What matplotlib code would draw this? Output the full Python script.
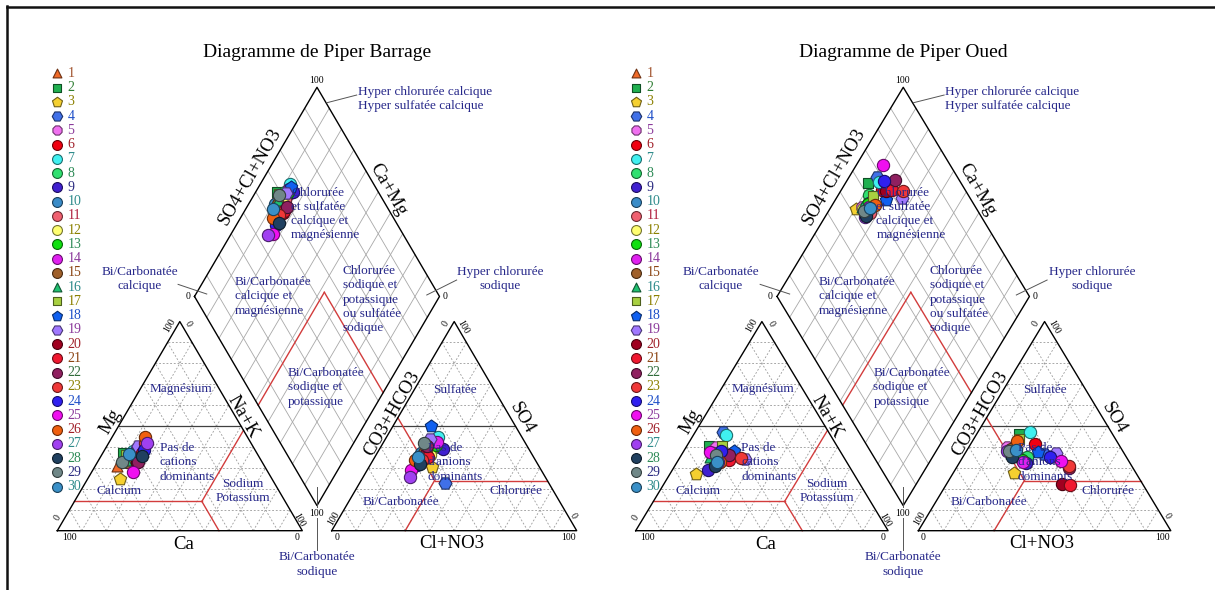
import numpy as np
import matplotlib
matplotlib.use("Agg")
import matplotlib.pyplot as plt
from matplotlib.lines import Line2D
from matplotlib.colors import to_rgb

plt.rcParams['font.family'] = ['Liberation Serif', 'DejaVu Serif']

# ---------------------------------------------------------------- samples
sample_ids = [str(i) for i in range(1, 31)]
sample_markers = ['^', 's', 'p', 'H', '8'] + ['o'] * 10 + ['^', 's', 'p', 'H'] + ['o'] * 11
sample_colors = ['#F06A28', '#20B050', '#F5D030', '#4070E8', '#F070F0',
                 '#F00010', '#40F0F0', '#30E070', '#4020D0', '#3A8CC8',
                 '#F06070', '#FFFF70', '#10E010', '#E020F0', '#A0602A',
                 '#20C070', '#A8D040', '#1060F0', '#A078FF', '#A00020',
                 '#F01830', '#902060', '#F03838', '#3020F0', '#F010F0',
                 '#F06010', '#A040F0', '#204060', '#708888', '#3A90C8']
label_colors = ['#A0522D', '#2E7D32', '#8B8000', '#1E4FC8', '#8B3A9B',
                '#A0202A', '#2E8B8B', '#2E8B57', '#2A2A80', '#2E8B8B',
                '#B02040', '#8B8000', '#2E8B57', '#8B3A9B', '#8B4513',
                '#2E8B8B', '#8B8000', '#1E4FC8', '#8B3A9B', '#A0202A',
                '#8B4513', '#2E6B3A', '#8B8000', '#1E4FC8', '#8B3A9B',
                '#A0202A', '#2E8B8B', '#2E8B57', '#2A2A80', '#2E8B8B']

# Barrage - cations (% meq/l)
barrage_ca = [60, 54.5, 62, 48, 50, 50, 50, 52, 48, 53, 46, 52, 52, 48, 55,
              55, 54, 49, 47, 51, 47, 50.5, 43, 45.5, 55, 41.5, 42.5, 47.5, 57, 52.5]
barrage_mg = [31, 37, 24.5, 38, 36, 35, 38, 36, 37, 36, 40, 34, 35, 39, 33,
              34, 36, 38, 40.5, 33, 37, 33, 42, 38.5, 28, 45, 42, 35.5, 33, 36.5]
barrage_nak = [9, 8.5, 13.5, 14, 14, 15, 12, 12, 15, 11, 14, 14, 13, 13, 12,
               11, 10, 13, 12.5, 16, 16, 16.5, 15, 16, 17, 13.5, 15.5, 17, 10, 11]
# Barrage - anions (% meq/l)
barrage_hco3 = [42, 41.4, 43.9, 42.2, 37, 43.5, 34.3, 38, 35, 45, 40, 42, 37, 35.8, 44,
                43, 41, 34.5, 38, 44, 43, 40.9, 46, 49.6, 53, 49.2, 55.2, 48, 41.4, 47.1]
barrage_so4 = [38, 41, 30.6, 23, 43, 35.3, 45, 40, 39, 37, 39, 36, 41, 42.6, 37,
               38, 40, 50, 44, 36, 35, 40.5, 34, 31.4, 29, 33.8, 25.8, 32, 41.8, 35.3]
barrage_cl = [20, 17.6, 25.5, 34.8, 20, 21.2, 20.7, 22, 26, 18, 21, 22, 22, 21.6, 19,
              19, 19, 15.5, 18, 20, 22, 18.6, 20, 19, 18, 17, 19, 20, 16.8, 17.6]

# Oued - cations (% meq/l)
oued_ca = [50, 50.8, 62.7, 42, 48, 47, 41.3, 51, 57, 51, 47, 52, 50, 47, 52,
           53, 45.7, 42, 39.5, 47, 46, 45, 40.7, 47.3, 51.8, 50, 51, 53, 50, 51.4]
oued_mg = [38, 40.5, 27, 47, 40, 37, 45.7, 37, 29, 34, 36, 35, 36, 38, 33,
           35, 40.5, 38, 34.5, 35, 34, 36, 34.8, 38, 37.7, 33, 33, 31, 36, 33]
oued_nak = [12, 8.7, 10.3, 11, 12, 16, 13, 12, 14, 15, 17, 13, 14, 15, 15,
            12, 13.8, 20, 26, 18, 20, 19, 24.5, 14.7, 10.5, 17, 16, 16, 14, 15.6]
# Oued - anions (% meq/l)
oued_hco3 = [40, 36.9, 48.1, 31.8, 45, 33, 32.2, 39.5, 41.3, 44, 43, 45, 42, 42, 44,
             45, 38, 33.9, 26.9, 31.8, 29.1, 25.5, 25, 30.2, 26.8, 39.3, 46, 45.3, 45, 42]
oued_so4 = [42, 46.2, 27.7, 36.7, 40, 41.4, 47.3, 35.2, 32.3, 38, 37, 36, 34, 33, 39,
            37, 44, 37.8, 37.1, 22.5, 21.7, 30, 30.8, 35.4, 33.4, 43, 38, 35.4, 38, 38.6]
oued_cl = [18, 16.9, 24.2, 31.5, 15, 25.6, 20.5, 25.3, 26.4, 18, 20, 19, 24, 25, 17,
           18, 18, 28.3, 36, 45.7, 49.2, 44.5, 44.2, 34.4, 39.8, 17.7, 16, 19.3, 17, 19.4]

panel_titles = ['Diagramme de Piper Barrage', 'Diagramme de Piper Oued']

# ---------------------------------------------------------------- geometry
H = np.sqrt(3) / 2
GAP = 12.0
ANION_X0 = 100 + GAP
D_B = np.array([100 + GAP / 2, GAP * H])           # diamond bottom corner
D_L = D_B + 100 * np.array([-0.5, H])              # diamond left corner
D_T = D_B + 100 * np.array([0.0, 2 * H])           # diamond top corner


def tri_xy(x0, right, top):
    right = np.asarray(right, float)
    top = np.asarray(top, float)
    return x0 + right + top / 2, top * H


def dia_xy(a, b):
    a = np.asarray(a, float) / 100
    b = np.asarray(b, float) / 100
    p = D_L[:, None] + np.outer(D_B - D_L, np.atleast_1d(a)) + np.outer(D_T - D_L, np.atleast_1d(b))
    return p[0], p[1]


GRID_KW = dict(color='#9a9a9a', lw=0.6, ls=(0, (2.2, 2.2)), zorder=1)
DGRID_KW = dict(color='#a8a8a8', lw=0.6, zorder=1)
EDGE_KW = dict(color='black', lw=1.0, zorder=3)
RED_KW = dict(color='#d23c3c', lw=1.0, zorder=2)
NAVY = '#27288a'


def draw_triangle(ax, x0):
    for k in range(10, 100, 10):
        for (r1, t1, r2, t2) in [(0, k, 100 - k, k), (k, 0, k, 100 - k), (100 - k, 0, 0, 100 - k)]:
            xs, ys = tri_xy(x0, [r1, r2], [t1, t2])
            kw = GRID_KW
            if (r1, t1, r2, t2) == (0, 50, 50, 50):
                kw = dict(color='#404040', lw=0.9, zorder=2)
            ax.plot(xs, ys, **kw)
    xs, ys = tri_xy(x0, [0, 100, 0, 0], [0, 0, 100, 0])
    ax.plot(xs, ys, **EDGE_KW)


def draw_diamond(ax):
    for k in range(10, 100, 10):
        xs, ys = dia_xy([k, k], [0, 100])
        ax.plot(xs, ys, **DGRID_KW)
        xs, ys = dia_xy([0, 100], [k, k])
        ax.plot(xs, ys, **DGRID_KW)
    xs, ys = dia_xy([0, 100, 100, 0, 0], [0, 0, 100, 100, 0])
    ax.plot(xs, ys, **EDGE_KW)


# facies boundaries (red)
CAT_NODE = (52, 14)        # (Na+K, Mg)
AN_NODE = (30, 24)         # (Cl, SO4)
DIA_NODE = (52, 54)        # (Na+K, SO4+Cl)


def draw_boundaries(ax):
    n, m = CAT_NODE
    ca = 100 - n - m
    for r, t in [([0, n], [m, m]), ([n, 100 - ca], [m, 0]), ([n, n], [m, 100 - n])]:
        ax.plot(*tri_xy(0, r, t), **RED_KW)
    c, s = AN_NODE
    h = 100 - c - s
    for r, t in [([c, 100 - s], [s, s]), ([c, c], [s, 0]), ([c, 0], [s, 100 - h])]:
        ax.plot(*tri_xy(ANION_X0, r, t), **RED_KW)
    a, b = DIA_NODE
    ax.plot(*dia_xy([a, a], [0, b]), **RED_KW)
    ax.plot(*dia_xy([a, 100], [b, b]), **RED_KW)


def txt(ax, x, y, s, size=9.5, color=NAVY, ha='left', va='center', rot=0, **kw):
    ax.text(x, y, s, fontsize=size, color=color, ha=ha, va=va, rotation=rot,
            rotation_mode='anchor', zorder=6, **kw)


def block(ax, x, y, lines, ha='left', step=5.92, size=9.5):
    for i, line in enumerate(lines):
        txt(ax, x, y - i * step, line, size=size, ha=ha)


def draw_labels(ax, title):
    txt(ax, 106, 198.2, title, size=14, color='black', ha='center')
    # axis names
    for x, y, s, r in [(21.6, 45.1, 'Mg', 60), (75.9, 47.2, 'Na+K', -60),
                       (136.5, 48.6, 'CO3+HCO3', 60), (189.6, 46.5, 'SO4', -60),
                       (78.7, 146.6, 'SO4+Cl+NO3', 60), (135.1, 141.1, 'Ca+Mg', -60),
                       (51.4, -5.9, 'Ca', 0), (161.0, -5.4, 'Cl+NO3', 0)]:
        txt(ax, x, y, s, size=13.5, color='black', ha='center', rot=r)
    # scale values
    ticks = [('100', 4.8, -3.0, 0), ('0', 97.9, -3.0, 0), ('0', 0.0, 5.5, 60),
             ('100', 46.0, 85.2, 60), ('0', 53.5, 85.6, -60), ('100', 98.8, 4.4, -60),
             ('0', 114.0, -3.0, 0), ('100', 208.6, -3.0, 0), ('100', 112.7, 5.1, 60),
             ('0', 158.5, 85.6, 60), ('100', 165.7, 84.5, -60), ('0', 210.6, 6.1, -60),
             ('100', 105.9, 186.6, 0), ('0', 53.3, 96.8, 0), ('0', 158.2, 96.8, 0)]
    for s, x, y, r in ticks:
        txt(ax, x, y, s, size=7, color='black', ha='center', rot=r)
    ax.text(105.9, 7.3, '100', fontsize=7, ha='center', va='center', zorder=6,
            bbox=dict(facecolor='white', edgecolor='none', pad=0.6))
    # leader lines
    for xs, ys in [([110, 122.2], [177.2, 180.4]), ([49.3, 61.0], [102.0, 98.0]),
                   ([150.8, 163.0], [97.6, 103.8]), ([105.9, 105.9], [18.1, -8.0])]:
        ax.plot(xs, ys, color='#555555', lw=0.7, zorder=4)
    # facies names
    block(ax, 122.7, 181.6, ['Hyper chlorurée calcique', 'Hyper sulfatée calcique'], step=5.6)
    block(ax, 95.4, 140.0, ['Chlorurée', 'et sulfatée', 'calcique et', 'magnésienne'])
    block(ax, 72.5, 103.0, ['Bi/Carbonatée', 'calcique et', 'magnésienne'])
    block(ax, 116.6, 107.5, ['Chlorurée', 'sodique et', 'potassique', 'ou sulfatée', 'sodique'])
    block(ax, 180.7, 107.1, ['Hyper chlorurée', 'sodique'], ha='center')
    block(ax, 33.8, 107.3, ['Bi/Carbonatée', 'calcique'], ha='center')
    block(ax, 94.2, 65.3, ['Bi/Carbonatée', 'sodique et', 'potassique'])
    block(ax, 50.5, 58.7, ['Magnésium'], ha='center')
    block(ax, 41.9, 34.2, ['Pas de', 'cations', 'dominants'])
    block(ax, 15.8, 16.4, ['Calcium'])
    block(ax, 75.8, 19.5, ['Sodium', 'Potassium'], ha='center')
    block(ax, 162.1, 58.3, ['Sulfatée'], ha='center')
    block(ax, 151.3, 34.2, ['Pas de', "d'anions", 'dominants'])
    block(ax, 176.6, 16.4, ['Chlorurée'])
    block(ax, 124.8, 12.0, ['Bi/Carbonatée'])
    block(ax, 106.0, -10.9, ['Bi/Carbonatée', 'sodique'], ha='center', step=6.2)


MSIZE = {'o': 78, '8': 78, 's': 46, '^': 62, 'p': 88, 'H': 88}


def mstyle(i, scale=1.0):
    c = np.array(to_rgb(sample_colors[i]))
    return dict(marker=sample_markers[i], s=MSIZE[sample_markers[i]] * scale, c=[c],
                edgecolors=[c * 0.45], linewidths=0.8)


def draw_samples(ax, ca, mg, nak, hco3, so4, cl):
    ca, mg, nak = (np.asarray(v, float) for v in (ca, mg, nak))
    hco3, so4, cl = (np.asarray(v, float) for v in (hco3, so4, cl))
    tc = ca + mg + nak
    ta = hco3 + so4 + cl
    nak_p, mg_p = 100 * nak / tc, 100 * mg / tc
    cl_p, so4_p = 100 * cl / ta, 100 * so4 / ta
    cx, cy = tri_xy(0, nak_p, mg_p)
    axx, ayy = tri_xy(ANION_X0, cl_p, so4_p)
    dx, dy = dia_xy(nak_p, so4_p + cl_p)
    for i in range(len(sample_ids)):
        st = mstyle(i)
        ax.scatter([cx[i], axx[i], dx[i]], [cy[i], ayy[i], dy[i]], zorder=5 + i * 0.001, **st)


LEG_TOP_PX, LEG_STEP_PX = 73.3, 14.25


def draw_legend(ax):
    for i, sid in enumerate(sample_ids):
        y = (530.7 - (LEG_TOP_PX + i * LEG_STEP_PX)) / 2.415
        ax.scatter([0], [y], zorder=5, **mstyle(i, 0.65))
        txt(ax, 4.2, y, sid, size=10, color=label_colors[i])


# ---------------------------------------------------------------- figure
W, HT = 1215, 590
fig = plt.figure(figsize=(W / 100, HT / 100), dpi=100)
fig.patch.set_facecolor('white')

panels = [
    dict(x0=57.3, sx=2.45, px=(8, 607),
         data=(barrage_ca, barrage_mg, barrage_nak, barrage_hco3, barrage_so4, barrage_cl)),
    dict(x0=635.7, sx=2.524, px=(608, 1215),
         data=(oued_ca, oued_mg, oued_nak, oued_hco3, oued_so4, oued_cl)),
]
BASE_PY, SY = 530.7, 2.415

for p, title in zip(panels, panel_titles):
    l, r = p['px']
    ax = fig.add_axes([l / W, 0, (r - l) / W, 1])
    ax.set_xlim((l - p['x0']) / p['sx'], (r - p['x0']) / p['sx'])
    ax.set_ylim((BASE_PY - HT) / SY, BASE_PY / SY)
    ax.axis('off')
    draw_triangle(ax, 0)
    draw_triangle(ax, ANION_X0)
    draw_diamond(ax)
    draw_boundaries(ax)
    draw_labels(ax, title)
    draw_samples(ax, *p['data'])
    draw_legend(ax)

# page frame
fig.add_artist(Line2D([7 / W, 7 / W], [0, 1 - 6 / HT], transform=fig.transFigure,
                      color='#111111', lw=1.8))
fig.add_artist(Line2D([7 / W, 1], [1 - 6.5 / HT, 1 - 6.5 / HT], transform=fig.transFigure,
                      color='#111111', lw=1.8))

fig.savefig('out.png', dpi=100, facecolor='white')
